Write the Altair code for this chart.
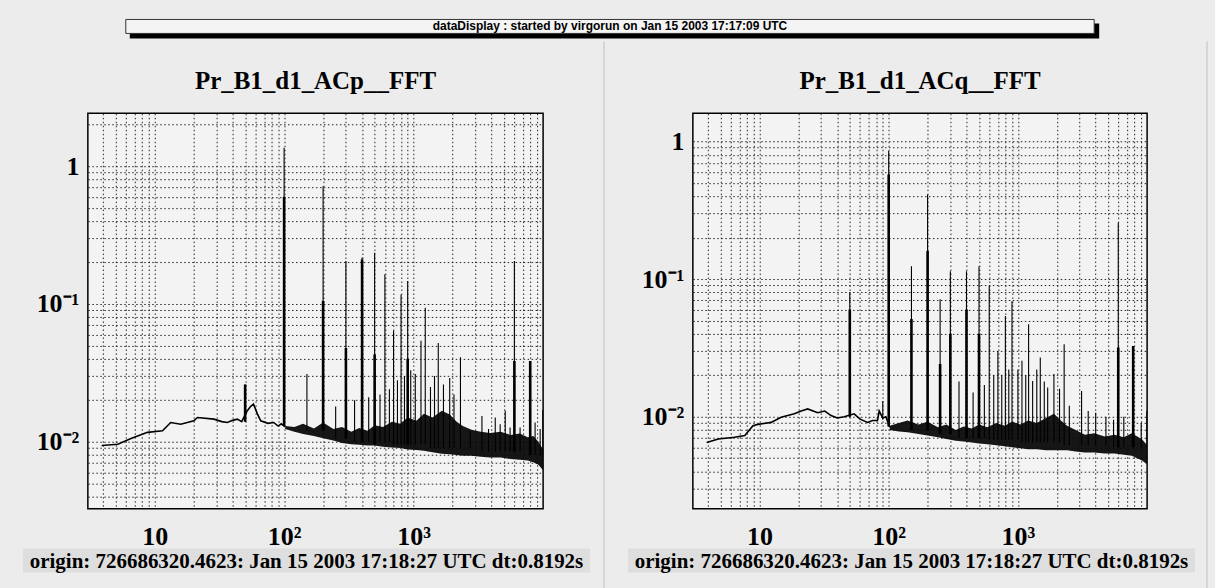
import altair as alt
import pandas as pd

# ---------------- text ----------------
BANNER = "dataDisplay : started by virgorun on Jan 15 2003 17:17:09 UTC"
TITLE_L = "Pr_B1_d1_ACp__FFT"
TITLE_R = "Pr_B1_d1_ACq__FFT"
ORIGIN = "origin: 726686320.4623: Jan 15 2003 17:18:27 UTC dt:0.8192s"

# ---------------- axes ----------------
X_DOMAIN = [3.05, 10000]
LEFT_Y_DOMAIN = [0.00327, 2.42]
RIGHT_Y_DOMAIN = [0.00215, 1.6]
X_GRID = [4, 5, 6, 7, 8, 9, 10, 20, 30, 40, 50, 60, 70, 80, 90,
          100, 200, 300, 400, 500, 600, 700, 800, 900,
          1000, 2000, 3000, 4000, 5000, 6000, 7000, 8000, 9000]
LEFT_Y_GRID = [0.004, 0.005, 0.006, 0.007, 0.008, 0.009,
               0.01, 0.02, 0.03, 0.04, 0.05, 0.06, 0.07, 0.08, 0.09,
               0.1, 0.2, 0.3, 0.4, 0.5, 0.6, 0.7, 0.8, 0.9, 1, 2]
RIGHT_Y_GRID = [0.003, 0.004, 0.005, 0.006, 0.007, 0.008, 0.009,
                0.01, 0.02, 0.03, 0.04, 0.05, 0.06, 0.07, 0.08, 0.09,
                0.1, 0.2, 0.3, 0.4, 0.5, 0.6, 0.7, 0.8, 0.9, 1]

# ---------------- left spectrum (ACp) ----------------
left_base_f = [3.9, 5.2, 6.5, 8.8, 11.5, 13.3, 15.9, 20.1, 21.4, 28.7, 33, 36.4, 40, 43.5,
               47, 52, 55, 58, 62, 66, 75, 83, 90, 95, 102]
left_base_v = [0.0094, 0.0096, 0.0105, 0.0117, 0.0120, 0.0138, 0.0134, 0.0142, 0.0150, 0.0146,
               0.0140, 0.0138, 0.0143, 0.0146, 0.0140, 0.0168, 0.0180, 0.0188, 0.0160, 0.0142,
               0.0136, 0.0138, 0.0130, 0.0135, 0.0128]
left_band_f = [102, 120, 140, 170, 200, 240, 280, 330, 380, 440, 500, 580, 680, 790, 900, 1050,
               1200, 1400, 1650, 1900, 2150, 2400, 2800, 3300, 3900, 4700, 5600, 6600, 7600,
               8400, 9200, 10000]
left_band_lo = [0.0124, 0.0118, 0.0114, 0.0110, 0.0106, 0.0102, 0.0098, 0.0096, 0.0095, 0.0094,
                0.0094, 0.0092, 0.0091, 0.0090, 0.0088, 0.0087, 0.0086, 0.0084, 0.0082, 0.0081,
                0.0080, 0.0079, 0.0079, 0.0078, 0.0077, 0.0077, 0.0075, 0.0074, 0.0073, 0.0071,
                0.0068, 0.0062]
left_band_hi = [0.0130, 0.0128, 0.0135, 0.0125, 0.0138, 0.0124, 0.0128, 0.0118, 0.0126, 0.0120,
                0.0132, 0.0128, 0.0140, 0.0135, 0.0150, 0.0142, 0.0160, 0.0150, 0.0168, 0.0158,
                0.0140, 0.0130, 0.0122, 0.0118, 0.0116, 0.0118, 0.0112, 0.0115, 0.0108, 0.0110,
                0.0100, 0.0088]
left_peak_f = [50, 100, 150, 200, 250, 300, 350, 400, 450, 500, 550, 600, 650, 700, 750, 800,
               850, 900, 950, 1030, 1140, 1230, 1350, 1450, 1550, 1700, 1900, 2050, 2300, 2740,
               3370, 3790, 4270, 4660, 5100, 5560, 6000, 6640, 7950, 8670, 9490, 9940]
left_peak_top = [0.026, 1.36, 0.031, 0.716, 0.018, 0.205, 0.020, 0.217, 0.021, 0.235, 0.022,
                 0.164, 0.024, 0.064, 0.028, 0.117, 0.030, 0.147, 0.033, 0.031, 0.054, 0.094,
                 0.025, 0.030, 0.052, 0.026, 0.029, 0.022, 0.041, 0.012, 0.0154, 0.0124, 0.015,
                 0.0134, 0.0168, 0.0127, 0.205, 0.0127, 0.0386, 0.0138, 0.0124, 0.017]
left_peak_base = [0.014, 0.013, 0.012, 0.012, 0.0105, 0.0105, 0.010, 0.010, 0.010, 0.010, 0.010,
                  0.010, 0.010, 0.0095, 0.0095, 0.0095, 0.0095, 0.0095, 0.0095, 0.0095, 0.0095,
                  0.0095, 0.009, 0.009, 0.009, 0.009, 0.009, 0.009, 0.009, 0.009, 0.0085, 0.0085,
                  0.0085, 0.0085, 0.0085, 0.0085, 0.0085, 0.0085, 0.008, 0.008, 0.008, 0.008]
left_thick_f = [50, 100, 200, 300, 400, 500, 900, 6000, 7950]
left_thick_top = [0.026, 0.6, 0.105, 0.048, 0.21, 0.043, 0.04, 0.0386, 0.0386]
left_thick_base = [0.014, 0.013, 0.012, 0.0105, 0.010, 0.0095, 0.0095, 0.0085, 0.008]

# ---------------- right spectrum (ACq) ----------------
right_base_f = [3.9, 4.8, 6.4, 7.7, 8.9, 9.7, 12.3, 14.7, 18.6, 21, 23.6, 28.2, 32, 35.8, 40,
                45.3, 54, 60, 68.6, 75, 81.9, 84.4, 90, 95, 102]
right_base_v = [0.0065, 0.0069, 0.0071, 0.0073, 0.0086, 0.0088, 0.0091, 0.0099, 0.0105, 0.0110,
                0.0114, 0.0107, 0.0110, 0.0102, 0.0098, 0.0100, 0.0105, 0.0096, 0.0091, 0.0094,
                0.0094, 0.0110, 0.0098, 0.0100, 0.0084]
right_band_f = [102, 120, 140, 170, 200, 240, 280, 330, 380, 440, 500, 580, 680, 790, 900, 1050,
                1200, 1400, 1650, 1900, 2150, 2400, 2800, 3300, 3900, 4700, 5600, 6600, 7600,
                8400, 9200, 10000]
right_band_lo = [0.0080, 0.0078, 0.0077, 0.0075, 0.0073, 0.0071, 0.0069, 0.0067, 0.0066, 0.0065,
                 0.0064, 0.0063, 0.0062, 0.0061, 0.0060, 0.0059, 0.0058, 0.0058, 0.0057, 0.0057,
                 0.0057, 0.0057, 0.0056, 0.0055, 0.0055, 0.0054, 0.0054, 0.0053, 0.0052, 0.0050,
                 0.0048, 0.0045]
right_band_hi = [0.0086, 0.0090, 0.0094, 0.0088, 0.0092, 0.0084, 0.0088, 0.0080, 0.0085, 0.0082,
                 0.0088, 0.0084, 0.0090, 0.0086, 0.0092, 0.0088, 0.0094, 0.0090, 0.0098, 0.0105,
                 0.0094, 0.0086, 0.0080, 0.0074, 0.0076, 0.0072, 0.0074, 0.0071, 0.0076, 0.0072,
                 0.0068, 0.0062]
right_peak_f = [50, 90, 100, 150, 200, 250, 300, 350, 400, 450, 500, 550, 600, 650, 700, 750,
                800, 850, 900, 1000, 1075, 1150, 1210, 1300, 1400, 1490, 1600, 1700, 1900, 2100,
                2280, 2500, 3110, 3500, 4000, 4800, 5500, 5980, 6600, 7800, 9000, 9950]
right_peak_top = [0.080, 0.013, 0.85, 0.124, 0.411, 0.0713, 0.114, 0.018, 0.114, 0.015, 0.124,
                  0.017, 0.089, 0.020, 0.030, 0.020, 0.054, 0.022, 0.069, 0.022, 0.0255, 0.020,
                  0.047, 0.0182, 0.022, 0.0269, 0.018, 0.0163, 0.0204, 0.016, 0.0336, 0.012,
                  0.0154, 0.011, 0.0107, 0.010, 0.0095, 0.256, 0.010, 0.0327, 0.009, 0.011]
right_peak_base = [0.010, 0.0095, 0.0085, 0.008, 0.008, 0.0075, 0.0075, 0.007, 0.007, 0.007,
                   0.007, 0.007, 0.0068, 0.0068, 0.0068, 0.0068, 0.0068, 0.0068, 0.0068, 0.0068,
                   0.0065, 0.0065, 0.0065, 0.0065, 0.0065, 0.0065, 0.0065, 0.0065, 0.0065, 0.0065,
                   0.0062, 0.0062, 0.0062, 0.0062, 0.0062, 0.0062, 0.006, 0.006, 0.006, 0.006,
                   0.006, 0.006]
right_thick_f = [50, 100, 150, 200, 250, 300, 400, 500, 5980, 7800]
right_thick_top = [0.06, 0.574, 0.0513, 0.16, 0.0242, 0.04, 0.06, 0.04, 0.0318, 0.0327]
right_thick_base = [0.010, 0.0085, 0.008, 0.008, 0.0075, 0.0075, 0.007, 0.007, 0.006, 0.006]

SERIF = "Liberation Serif"
ONE = pd.DataFrame({"k": [0]})
H = 396


def rect(x, x2, y, y2, **kw):
    return alt.Chart(ONE).mark_rect(**kw).encode(
        x=alt.value(x), x2=alt.value(x2), y=alt.value(y), y2=alt.value(y2))


def text(txt, x, y, **kw):
    return alt.Chart(ONE).mark_text(**kw).encode(
        x=alt.value(x), y=alt.value(y), text=alt.value(txt))


def rule_v(x, y, y2, **kw):
    return alt.Chart(ONE).mark_rule(**kw).encode(
        x=alt.value(x), y=alt.value(y), y2=alt.value(y2))


def panel(title, bf, bv, nf, nlo, nhi, pf, ptop, pbase, tf, ttop, tbase, ydom, ygrid, width, extra):
    xs = alt.Scale(type="log", domain=X_DOMAIN, nice=False)
    ys = alt.Scale(type="log", domain=ydom, nice=False)
    gstyle = dict(grid=True, gridColor="#1a1a1a", gridDash=[1.5, 2.5], gridWidth=1,
                  gridOpacity=0.95, ticks=False, domain=False, title=None,
                  labelFont=SERIF, labelFontWeight="bold", labelColor="black",
                  labelOverlap=False)
    xax = alt.Axis(values=X_GRID, labelFontSize=26, labelPadding=15,
                   labelExpr="datum.value == 10 ? '10' : datum.value == 100 ? '10²' : datum.value == 1000 ? '10³' : ''",
                   **gstyle)
    yax = alt.Axis(values=ygrid, labelFontSize=26, labelPadding=9,
                   labelExpr="datum.value == 1 ? '1' : datum.value == 0.1 ? '10⁻¹' : datum.value == 0.01 ? '10⁻²' : ''",
                   **gstyle)
    X = alt.X("f:Q", scale=xs, axis=xax)

    band = alt.Chart(pd.DataFrame({"f": nf, "lo": nlo, "hi": nhi})).mark_area(
        color="#0a0a0a", opacity=0.95, clip=True).encode(
        x=X, y=alt.Y("lo:Q", scale=ys, axis=yax), y2="hi:Q")
    base = alt.Chart(pd.DataFrame({"f": bf, "lo": bv})).mark_line(
        color="black", strokeWidth=1.6, clip=True).encode(
        x=X, y=alt.Y("lo:Q", scale=ys, axis=yax))
    peaks = alt.Chart(pd.DataFrame({"f": pf, "hi": ptop, "lo": pbase})).mark_rule(
        color="black", strokeWidth=1.1, clip=True).encode(
        x=X, y=alt.Y("lo:Q", scale=ys, axis=yax), y2="hi:Q")
    thick = alt.Chart(pd.DataFrame({"f": tf, "hi": ttop, "lo": tbase})).mark_rule(
        color="black", strokeWidth=2.6, clip=True).encode(
        x=X, y=alt.Y("lo:Q", scale=ys, axis=yax), y2="hi:Q")

    deco = [
        rect(-65, 503, 436, 460, color="#dedede"),
        text(ORIGIN, 219, 449, font=SERIF, fontSize=21, fontWeight="bold",
             align="center", baseline="middle", color="black"),
        text(title, width / 2, -32, font=SERIF, fontSize=25, fontWeight="bold",
             align="center", baseline="middle", color="black"),
    ]
    return alt.layer(*([band, base, peaks, thick] + extra + deco)).properties(
        width=width, height=H)


left_extra = [
    # page-sized invisible frame fixing the picture bounds
    rect(-87, 1128, -112, 476, opacity=0),
    rule_v(517, -72, 476, color="#cfcfcf", strokeWidth=1.5),
    rule_v(1121, -72, 476, color="#cfcfcf", strokeWidth=1.5),
    rect(42, 1013, -90, -75, color="black"),
    rect(38, 1008, -94, -80, fill="#f4f4f4", stroke="#333333", strokeWidth=1),
    text(BANNER, 523, -87, font="Liberation Sans", fontSize=12, fontWeight="bold",
         align="center", baseline="middle", color="black"),
]

left = panel(TITLE_L, left_base_f, left_base_v, left_band_f, left_band_lo, left_band_hi,
             left_peak_f, left_peak_top, left_peak_base, left_thick_f, left_thick_top,
             left_thick_base, LEFT_Y_DOMAIN, LEFT_Y_GRID, 456, left_extra)
right = panel(TITLE_R, right_base_f, right_base_v, right_band_f, right_band_lo, right_band_hi,
              right_peak_f, right_peak_top, right_peak_base, right_thick_f, right_thick_top,
              right_thick_base, RIGHT_Y_DOMAIN, RIGHT_Y_GRID, 455, [])

chart = alt.hconcat(left, right, spacing=150, bounds="flush").properties(
    background="#ececec", padding=0
).configure_view(fill="#f3f3f3", stroke="black", strokeWidth=1.5)

chart.save("out.html", embed_options={"renderer": "svg", "actions": False})
